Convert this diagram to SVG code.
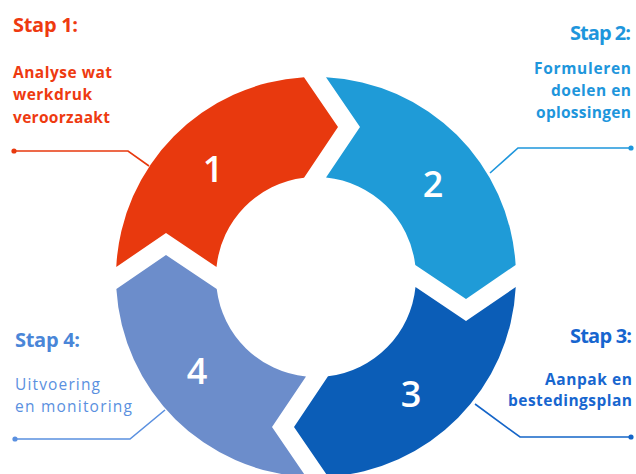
<svg xmlns="http://www.w3.org/2000/svg" width="636" height="474" viewBox="0 0 636 474">
  <defs>
    <path id="seg" d="M10,-199.75 A200,200 0 0 1 199.64,-12 L150,22 L99.28,-12 A100,100 0 0 0 10,-99.5 L44,-150 Z"/>
  </defs>
  <style>
    .num { font-family: "Open Sans", "Liberation Sans", sans-serif; font-size: 36px; font-weight: 600; fill: #ffffff; text-anchor: middle; }
    .stap { font-family: "Open Sans", "Liberation Sans", sans-serif; font-size: 20px; font-weight: 700; }
    .desc { font-family: "Open Sans", "Liberation Sans", sans-serif; font-size: 15.5px; font-weight: 700; }
    .descl { font-family: "Open Sans", "Liberation Sans", sans-serif; font-size: 15.5px; font-weight: 400; }
    .conn { fill: none; stroke-width: 1.6; }
    .end { text-anchor: end; }
  </style>
  <rect width="636" height="474" fill="#ffffff"/>

  <g id="node1">
    <use href="#seg" transform="translate(316,277) rotate(-90)" fill="#E8390E"/>
    <text class="num" x="213" y="182">1</text>
    <text class="stap" x="13" y="32" fill="#EE3A10" textLength="65" lengthAdjust="spacing">Stap 1:</text>
    <text class="desc" x="13" y="78" fill="#EE3A10" textLength="99" lengthAdjust="spacing">Analyse wat</text>
    <text class="desc" x="13" y="100" fill="#EE3A10" textLength="79" lengthAdjust="spacing">werkdruk</text>
    <text class="desc" x="13" y="123" fill="#EE3A10" textLength="97" lengthAdjust="spacing">veroorzaakt</text>
  </g>

  <g id="node2">
    <use href="#seg" transform="translate(316,277)" fill="#1F9BD7"/>
    <text class="num" x="433" y="197">2</text>
    <text class="stap end" x="631" y="40" fill="#1E96DC" textLength="61" lengthAdjust="spacing">Stap 2:</text>
    <text class="desc end" x="631" y="74" fill="#1E96DC" textLength="97" lengthAdjust="spacing">Formuleren</text>
    <text class="desc end" x="631" y="96" fill="#1E96DC" textLength="80" lengthAdjust="spacing">doelen en</text>
    <text class="desc end" x="631" y="118" fill="#1E96DC" textLength="95" lengthAdjust="spacing">oplossingen</text>
  </g>

  <g id="node3">
    <use href="#seg" transform="translate(316,277) rotate(90)" fill="#0B5DB7"/>
    <text class="num" x="411" y="407">3</text>
    <text class="stap end" x="632" y="343" fill="#1766CF" textLength="62" lengthAdjust="spacing">Stap 3:</text>
    <text class="desc end" x="632" y="385" fill="#1766CF" textLength="87" lengthAdjust="spacing">Aanpak en</text>
    <text class="desc end" x="632" y="406" fill="#1766CF" textLength="124" lengthAdjust="spacing">bestedingsplan</text>
  </g>

  <g id="node4">
    <use href="#seg" transform="translate(316,277) rotate(180)" fill="#6C8DCB"/>
    <text class="num" x="197" y="384">4</text>
    <text class="stap" x="15" y="347" fill="#4A86D8" textLength="65" lengthAdjust="spacing">Stap 4:</text>
    <text class="descl" x="15" y="390" fill="#5A90E0" textLength="85" lengthAdjust="spacing">Uitvoering</text>
    <text class="descl" x="15" y="412" fill="#5A90E0" textLength="117" lengthAdjust="spacing">en monitoring</text>
  </g>

  <g id="connectors">
    <polyline class="conn" stroke="#E8390E" points="14,151 128,151 149,166"/>
    <circle cx="14" cy="151" r="2.6" fill="#E8390E"/>
    <polyline class="conn" stroke="#1E96DC" points="490,173 518,148 631,148"/>
    <circle cx="631" cy="148" r="2.6" fill="#1E96DC"/>
    <polyline class="conn" stroke="#1565C8" points="475,404 520,437 631,437"/>
    <circle cx="631" cy="437" r="2.6" fill="#1565C8"/>
    <polyline class="conn" stroke="#5A90E0" points="165,410 130,439 15,439"/>
    <circle cx="15" cy="439" r="2.6" fill="#5A90E0"/>
  </g>
</svg>
